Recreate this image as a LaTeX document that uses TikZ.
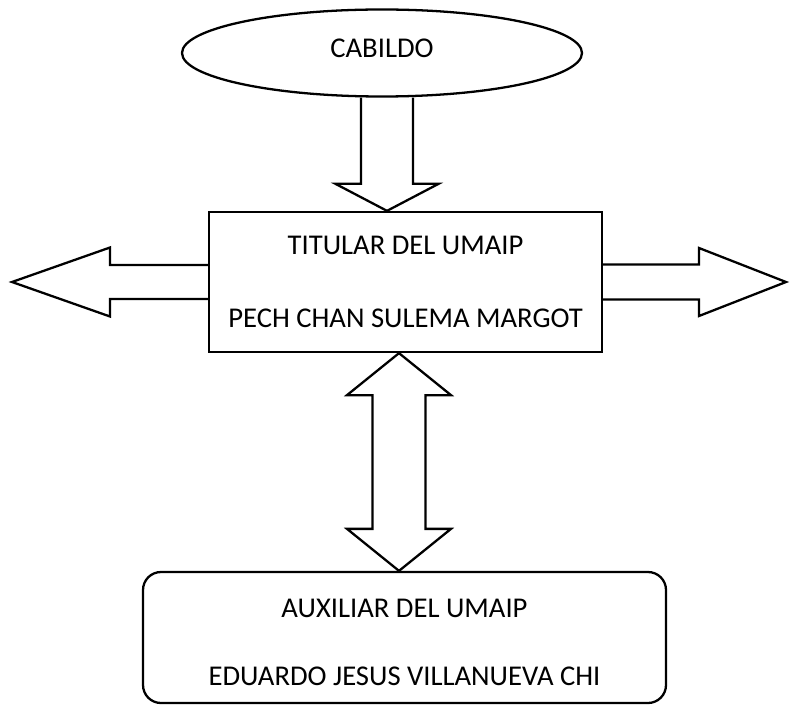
\documentclass[tikz,border=0pt]{standalone}
\usepackage{fontspec}
\setmainfont{Carlito}
\usepackage{tikz}
\usetikzlibrary{shapes.geometric, calc}

% flecha de bloque: cola, punta, medio cuerpo, media punta, largo punta
\newcommand{\flechabloque}[5]{%
  \path ($(#2)!#5!(#1)$) coordinate (h);
  \draw[bloque] ($(#1)!#3!90:(#2)$) -- ($(h)!#3!90:(#2)$) -- ($(h)!#4!90:(#2)$)
    -- (#2) -- ($(h)!#4!-90:(#2)$) -- ($(h)!#3!-90:(#2)$) -- ($(#1)!#3!-90:(#2)$);
}
% flecha de bloque con dos puntas
\newcommand{\flechadoble}[5]{%
  \path ($(#1)!#5!(#2)$) coordinate (h1) ($(#2)!#5!(#1)$) coordinate (h2);
  \draw[bloque] (#1) -- ($(h1)!#4!90:(#2)$) -- ($(h1)!#3!90:(#2)$) -- ($(h2)!#3!90:(#2)$)
    -- ($(h2)!#4!90:(#2)$) -- (#2) -- ($(h2)!#4!-90:(#2)$) -- ($(h2)!#3!-90:(#2)$)
    -- ($(h1)!#3!-90:(#2)$) -- ($(h1)!#4!-90:(#2)$) -- cycle;
}

\begin{document}
\begin{tikzpicture}[
    bloque/.style={draw, line width=1.3pt, line join=miter},
    texto/.style={font=\fontsize{16.3}{20}\selectfont, align=center, inner sep=0pt}
  ]
    \useasboundingbox (0,0) rectangle (15.8,14.08);
    % Cabildo
    \node[ellipse, bloque, texto, text depth=0.2cm, minimum width=8cm, minimum height=1.74cm] (cabildo) at (7.64,13.02) {CABILDO};
    % Titular
    \node[rectangle, bloque, texto, minimum width=7.86cm, minimum height=2.8cm] (titular) at (8.11,8.44)
      {TITULAR DEL UMAIP\\[21.5pt]PECH CHAN SULEMA MARGOT};
    % Auxiliar
    \node[rectangle, rounded corners=0.36cm, bloque, texto, minimum width=10.46cm, minimum height=2.62cm] (auxiliar) at (8.09,1.33)
      {\rule{0pt}{0.58cm}AUXILIAR DEL UMAIP\\[18.7pt]EDUARDO JESUS VILLANUEVA CHI};
    % Extremos de las flechas
    \coordinate (baja) at ($(cabildo.south)+(0.1,0)$);
    \coordinate (sube) at ($(titular.south)+(-0.13,0)$);
    \coordinate (izq) at (0.24,8.44);
    \coordinate (der) at (15.72,8.44);
    % Flechas
    \flechabloque{baja}{baja |- titular.north}{0.52cm}{1.03cm}{0.54cm}
    \flechabloque{titular.west}{izq}{0.34cm}{0.69cm}{1.96cm}
    \flechabloque{titular.east}{der}{0.35cm}{0.68cm}{1.74cm}
    \flechadoble{sube}{sube |- auxiliar.north}{0.53cm}{1.04cm}{0.84cm}
\end{tikzpicture}
\end{document}
